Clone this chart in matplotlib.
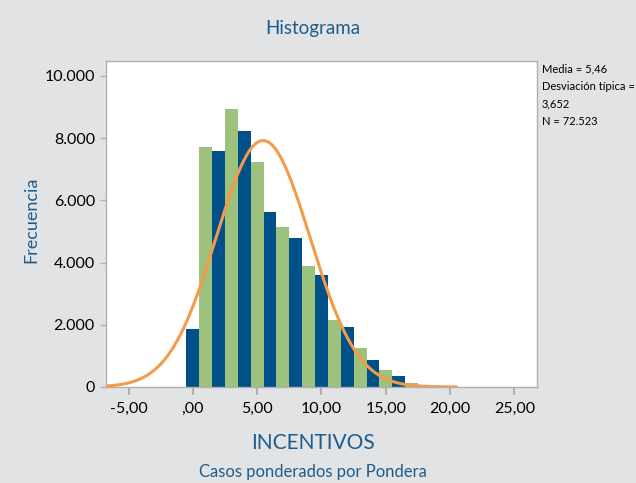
import matplotlib
matplotlib.use("Agg")
import matplotlib.pyplot as plt
from matplotlib.ticker import FuncFormatter
import numpy as np

# bin centres (width 1) and weighted counts
centres = [0, 1, 2, 3, 4, 5, 6, 7, 8, 9, 10, 11, 12, 13, 14, 15, 16, 17]
counts = [1870, 7720, 7590, 8940, 8230, 7240, 5630, 5150, 4790, 3890,
          3600, 2150, 1930, 1250, 870, 550, 355, 130]

media = 5.46
desv = 3.652
n_casos = 72523

x_ticks = [-5, 0, 5, 10, 15, 20, 25]
y_ticks = [0, 2000, 4000, 6000, 8000, 10000]

BLUE = "#00508a"
GREEN = "#9cc27e"
ORANGE = "#f59a4a"
TXT_BLUE = "#1d5c8e"
BG = "#e1e3e5"

plt.rcParams['font.family'] = ['Lato', 'DejaVu Sans']

fig = plt.figure(figsize=(6.36, 4.83), dpi=100, facecolor=BG)
ax = fig.add_axes([0.1667, 0.1988, 0.6776, 0.6749])
ax.set_facecolor("white")

colors = [BLUE if i % 2 == 0 else GREEN for i in range(len(centres))]
ax.bar(centres, counts, width=1.0, color=colors, linewidth=0, zorder=2)

# normal curve from the stated statistics, scaled to bin width 1
xs = np.linspace(-6.7, 20.5, 400)
ys = n_casos * np.exp(-0.5 * ((xs - media) / desv) ** 2) / (desv * np.sqrt(2 * np.pi))
ax.plot(xs, ys, color=ORANGE, lw=2.2, zorder=3, solid_capstyle='round')

ax.set_xlim(-6.75, 26.75)
ax.set_ylim(0, 10480)
ax.set_xticks(x_ticks)
ax.set_yticks(y_ticks)


def fmt_x(v, pos):
    s = f"{v:.2f}".replace('.', ',')
    if s.startswith("0,") or s.startswith("-0,"):
        s = s.replace("0,", ",", 1)
    return s


def fmt_y(v, pos):
    return f"{int(v):,}".replace(',', '.')


ax.xaxis.set_major_formatter(FuncFormatter(fmt_x))
ax.yaxis.set_major_formatter(FuncFormatter(fmt_y))

for sp in ax.spines.values():
    sp.set_color("#b0b0b0")
    sp.set_linewidth(1.0)

ax.tick_params(axis='x', length=6, width=1.5, color="#b0b0b0", labelsize=11.5, pad=5)
ax.tick_params(axis='y', length=4, width=1.0, color="#b0b0b0", labelsize=11.5, pad=4)

fig.text(0.492, 0.942, "Histograma", ha='center', va='center', fontsize=13.5, color=TXT_BLUE)
fig.text(0.049, 0.545, "Frecuencia", ha='center', va='center', rotation=90, fontsize=13, color=TXT_BLUE)
fig.text(0.492, 0.083, "INCENTIVOS", ha='center', va='center', fontsize=15, color=TXT_BLUE)
fig.text(0.492, 0.022, "Casos ponderados por Pondera", ha='center', va='center', fontsize=12, color=TXT_BLUE)

stats = ["Media = 5,46", "Desviación típica =", "3,652", "N = 72.523"]
for i, line in enumerate(stats):
    fig.text(0.852, 0.857 - i * 0.036, line, ha='left', va='center', fontsize=8, color="black")

fig.savefig("out.png", dpi=100, facecolor=BG)
